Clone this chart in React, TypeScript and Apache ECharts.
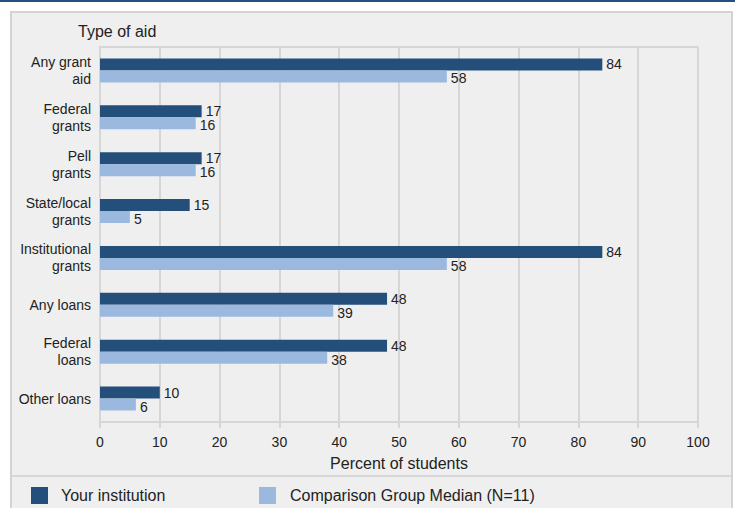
import React, { useEffect, useRef } from "react";
import * as echarts from "echarts";

const categories = [
  "Any grant\naid",
  "Federal\ngrants",
  "Pell\ngrants",
  "State/local\ngrants",
  "Institutional\ngrants",
  "Any loans",
  "Federal\nloans",
  "Other loans",
];
const yourInstitution = [84, 17, 17, 15, 84, 48, 48, 10];
const comparisonMedian = [58, 16, 16, 5, 58, 39, 38, 6];
const seriesNames = ["Your institution", "Comparison Group Median (N=11)"];
const xTicks = { min: 0, max: 100, interval: 10 };

const FONT = "Liberation Sans";
const DARK = "#254f7b";
const LIGHT = "#9bb9de";
const GRID = "#d6d6d6";

export default function App() {
  const ref = useRef<HTMLDivElement>(null);
  useEffect(() => {
    if (!ref.current) return;
    const chart = echarts.init(ref.current, null, { renderer: "svg" });
    chart.setOption({
      animation: false,
      textStyle: { fontFamily: FONT },
      graphic: [
        { type: "rect", z: -10, shape: { x: 0, y: 0, width: 735, height: 2 }, style: { fill: "#22517f" } },
        { type: "rect", z: -10, shape: { x: 11, y: 12, width: 721, height: 500 }, style: { fill: "#efefef", stroke: "#d3d3d3", lineWidth: 2 } },
        { type: "line", z: -5, shape: { x1: 12, y1: 476, x2: 731, y2: 476 }, style: { stroke: "#d8d8d8", lineWidth: 2 } },
      ],
      title: {
        text: "Type of aid",
        left: 78,
        top: 23,
        padding: 0,
        textStyle: { fontSize: 16, fontWeight: "normal", color: "#222", fontFamily: FONT },
      },
      legend: [
        {
          data: [seriesNames[0]],
          left: 31,
          top: 487,
          padding: 0,
          icon: "rect",
          itemWidth: 17,
          itemHeight: 17,
          textStyle: { fontSize: 16, color: "#222", padding: [0, 0, 0, 8], fontFamily: FONT },
        },
        {
          data: [seriesNames[1]],
          left: 259,
          top: 487,
          padding: 0,
          icon: "rect",
          itemWidth: 17,
          itemHeight: 17,
          textStyle: { fontSize: 16, color: "#222", padding: [0, 0, 0, 9], fontFamily: FONT },
        },
      ],
      grid: { left: 100, right: 37, top: 47, bottom: 86, containLabel: false },
      xAxis: [
        {
          type: "value",
          min: xTicks.min,
          max: xTicks.max,
          interval: xTicks.interval,
          name: "Percent of students",
          nameLocation: "middle",
          nameGap: 33,
          nameTextStyle: { fontSize: 16, color: "#222", fontFamily: FONT },
          axisLine: { show: true, lineStyle: { color: GRID, width: 2 } },
          axisTick: { show: true, length: 6, lineStyle: { color: GRID, width: 2 } },
          axisLabel: { fontSize: 14, color: "#222", margin: 13, fontFamily: FONT },
          splitLine: { show: true, lineStyle: { color: GRID, width: 2 } },
        },
        {
          type: "value",
          position: "top",
          min: xTicks.min,
          max: xTicks.max,
          interval: xTicks.interval,
          axisLine: { show: true, lineStyle: { color: GRID, width: 2 } },
          axisTick: { show: false },
          axisLabel: { show: false },
          splitLine: { show: false },
        },
      ],
      yAxis: {
        type: "category",
        inverse: true,
        data: categories,
        axisLine: { show: true, lineStyle: { color: GRID, width: 2 } },
        axisTick: { show: false },
        axisLabel: { fontSize: 14, color: "#222", margin: 9, lineHeight: 17, align: "right", fontFamily: FONT },
        splitLine: { show: false },
      },
      series: [
        {
          name: seriesNames[0],
          type: "bar",
          xAxisIndex: 0,
          data: yourInstitution,
          barWidth: 12,
          barGap: "0%",
          itemStyle: { color: DARK },
          label: { show: true, position: "right", distance: 4, fontSize: 14, color: "#222", fontFamily: FONT },
        },
        {
          name: seriesNames[1],
          type: "bar",
          xAxisIndex: 0,
          data: comparisonMedian,
          barWidth: 12,
          barGap: "0%",
          itemStyle: { color: LIGHT },
          label: { show: true, position: "right", distance: 4, fontSize: 14, color: "#222", fontFamily: FONT, offset: [0, 2] },
        },
      ],
    });
    return () => chart.dispose();
  }, []);
  return <div ref={ref} style={{ position: "absolute", left: 0, top: 0, width: 735, height: 508 }} />;
}
